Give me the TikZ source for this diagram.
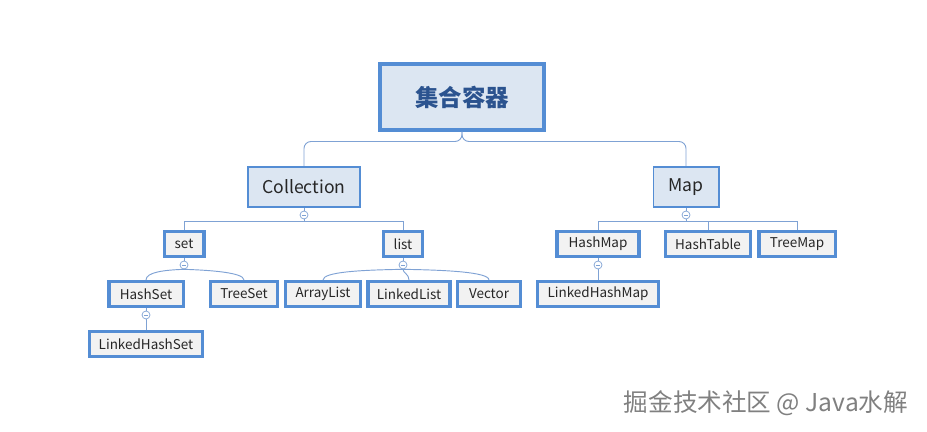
\documentclass[tikz,border=0pt]{standalone}
\usepackage{fontspec}
\setmainfont{Noto Sans CJK SC}
\definecolor{boxblue}{HTML}{548DD4}
\definecolor{linkblue}{HTML}{7FA2D4}
\definecolor{headfill}{HTML}{DCE6F2}
\definecolor{leaffill}{HTML}{F2F2F2}
\definecolor{headtext}{HTML}{2B538F}
\tikzset{
  rootbox/.style={draw=boxblue, line width=3.4pt, fill=headfill, text=headtext, font=\fontsize{20}{24}\selectfont\bfseries, minimum width=140.8pt, minimum height=55.5pt, inner sep=0pt},
  midbox/.style={draw=boxblue, line width=1.7pt, fill=headfill, text=black!85, font=\fontsize{15}{18}\selectfont, minimum height=34.1pt, inner sep=0pt},
  leafbox/.style={draw=boxblue, line width=2.6pt, fill=leaffill, text=black!85, font=\fontsize{11.5}{13}\selectfont, minimum height=21.3pt, inner sep=0pt},
  fold/.style={circle, draw=linkblue, line width=0.6pt, fill=white, minimum size=6.8pt, inner sep=0pt,
    path picture={\draw[linkblue, line width=0.5pt] ([xshift=1.6pt]path picture bounding box.west) -- ([xshift=-1.6pt]path picture bounding box.east);}},
  link/.style={draw=linkblue, line width=0.8pt}
}
\begin{document}
\begin{tikzpicture}[x=0.03cm, y=-0.03cm]
\useasboundingbox (0,0) rectangle (927,432);
% top level
\node[rootbox] (root) at (462,97) {集合容器};
\node[midbox, minimum width=95.6pt] (coll) at (304,187) {Collection};
\node[midbox, minimum width=55.5pt] (map) at (686,187) {Map};
\draw[link, rounded corners=6] (root.south) -- ++(0,10) -| (coll.north);
\draw[link, rounded corners=6] (root.south) -- ++(0,10) -| (map.north);
% collection side
\node[fold] (fc) at (304,215) {};
\node[leafbox, minimum width=34.1pt] (set) at (184,244) {set};
\node[leafbox, minimum width=33.3pt] (list) at (403,244) {list};
\draw[link] (coll) -- (fc);
\draw[link] (fc) -- ++(0,6) -| (set.north);
\draw[link] (fc) -- ++(0,6) -| (list.north);
\node[fold] (fs) at (184,265) {};
\node[leafbox, minimum width=63.2pt] (hashset) at (146,294) {HashSet};
\node[leafbox, minimum width=57.2pt] (treeset) at (244,294) {TreeSet};
\node[leafbox, minimum width=96.5pt] (lhashset) at (146,344) {LinkedHashSet};
\draw[link] (set) -- (fs);
\draw[link] (fs.south) .. controls (165,270) and (146,272) .. (hashset.north);
\draw[link] (fs.south) .. controls (205,270) and (244,272) .. (treeset.north);
\node[fold] (fh) at (146,315) {};
\draw[link] (hashset) -- (fh);
\draw[link] (fh) -- (lhashset);
\node[fold] (fl) at (403,265) {};
\node[leafbox, minimum width=64pt] (arraylist) at (323,294) {ArrayList};
\node[leafbox, minimum width=70pt] (linkedlist) at (409,294) {LinkedList};
\node[leafbox, minimum width=53.8pt] (vector) at (489,294) {Vector};
\draw[link] (list) -- (fl);
\draw[link] (fl.south) .. controls (360,270) and (323,272) .. (arraylist.north);
\draw[link] (fl.south) .. controls (403,273) and (409,274) .. (linkedlist.north);
\draw[link] (fl.south) .. controls (445,270) and (489,272) .. (vector.north);
% map side
\node[fold] (fm) at (686,215) {};
\node[leafbox, minimum width=70pt] (hashmap) at (598,244) {HashMap};
\node[leafbox, minimum width=72.6pt] (hashtable) at (708,244) {HashTable};
\node[leafbox, minimum width=64.9pt] (treemap) at (797,244) {TreeMap};
\draw[link] (map) -- (fm);
\draw[link] (fm) -- ++(0,6) -| (hashmap.north);
\draw[link] (fm) -- ++(0,6) -| (hashtable.north);
\draw[link] (fm) -- ++(0,6) -| (treemap.north);
\node[fold] (fhm) at (598,265) {};
\node[leafbox, minimum width=103.3pt] (lhashmap) at (598,294) {LinkedHashMap};
\draw[link] (hashmap) -- (fhm);
\draw[link] (fhm) -- (lhashmap);
% watermark
\node[text=black!50, font=\fontsize{21}{24}\selectfont, inner sep=0pt] (mark) at (766,403) {掘金技术社区 @ Java水解};
\end{tikzpicture}
\end{document}
